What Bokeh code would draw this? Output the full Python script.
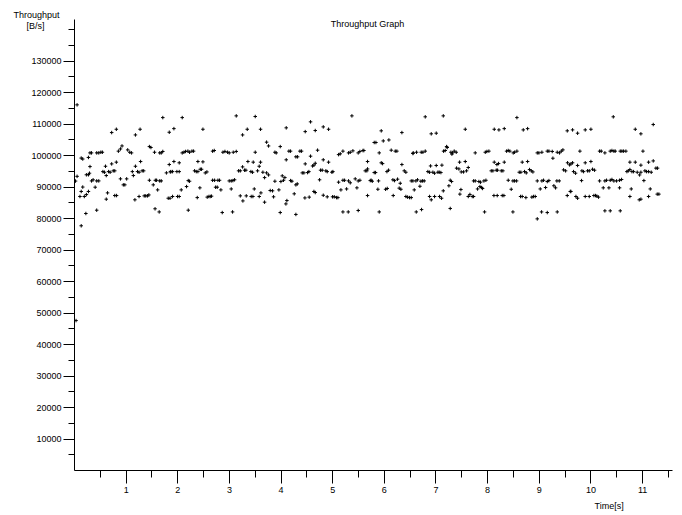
from bokeh.plotting import figure
from bokeh.models import Range1d, FixedTicker, BasicTickFormatter, Label, Title, ColumnDataSource
from bokeh.embed import file_html
from bokeh.resources import INLINE

# Throughput samples: time in seconds, throughput in bytes per second
time_s = [
    0.02, 0.03, 0.05, 0.05, 0.13, 0.16, 0.13, 0.16, 0.13, 0.105,
    0.19, 0.22, 0.23, 0.27, 0.23, 0.27, 0.29, 0.30, 0.27, 0.30,
    0.33, 0.33, 0.36, 0.40, 0.43, 0.47, 0.51, 0.54, 0.43, 0.47,
    0.43, 0.55, 0.58, 0.60, 0.615, 0.64, 0.615, 0.66, 0.69, 0.72,
    0.72, 0.75, 0.78, 0.81, 0.81, 0.78, 0.815, 0.89, 0.85, 0.89,
    0.92, 0.945, 0.975, 1.01, 1.03, 1.07, 1.105, 1.12, 1.14, 1.18,
    1.18, 1.17, 1.22, 1.25, 1.25, 1.27, 1.28, 1.31, 1.34, 1.35,
    1.38, 1.415, 1.44, 1.45, 1.48, 1.45, 1.525, 1.55, 1.565, 1.59,
    1.56, 1.61, 1.64, 1.65, 1.68, 1.65, 1.68, 1.71, 1.71, 1.78,
    1.835, 1.835, 1.815, 1.85, 1.855,
    2.086, 1.925, 2.487, 1.925, 2.028, 2.086, 2.119, 2.151, 2.196, 2.228,
    2.274, 2.306, 1.867, 1.899, 1.983, 2.028, 2.390, 2.487, 2.325, 2.358,
    2.390, 2.435, 2.461, 2.532, 2.564, 2.170, 2.203, 2.228, 2.067, 1.899,
    1.996, 2.028, 2.203, 2.377, 2.428, 2.570, 2.603, 2.629, 2.654, 2.674,
    2.706, 2.674, 2.713, 2.777, 2.809, 2.732, 2.764, 2.835, 2.861, 2.874,
    2.913, 2.964, 2.996, 2.996, 3.035, 3.074, 3.132, 3.035, 3.068, 3.100,
    3.061, 3.132, 3.177, 3.210, 3.210, 3.255, 3.261, 3.293, 3.319, 3.326,
    3.345, 3.255, 3.358, 3.416, 3.448, 3.422, 3.455, 3.481, 3.461, 3.500,
    3.500, 3.545, 3.577, 3.577, 3.603, 3.603, 3.610, 3.681, 3.648, 3.681,
    3.720, 3.720, 3.758, 3.758, 3.790,
    5.372, 4.571, 4.100, 4.468, 4.662, 4.817, 4.920, 3.984, 3.881, 3.906,
    4.152, 4.184, 4.365, 4.397, 4.707, 5.198, 5.114, 5.146, 5.307, 5.340,
    5.391, 5.494, 5.527, 5.585, 5.604, 4.100, 4.287, 4.320, 4.571, 4.817,
    4.468, 4.610, 4.636, 4.662, 4.920, 5.675, 5.675, 5.630, 5.662, 4.765,
    4.797, 4.868, 4.894, 4.984, 5.004, 4.410, 4.442, 4.513, 4.539, 4.023,
    4.074, 3.881, 3.997, 4.048, 4.184, 4.210, 4.313, 4.287, 4.746, 5.114,
    5.198, 5.230, 5.307, 5.340, 5.436, 5.494, 5.527, 3.835, 3.958, 3.855,
    4.255, 4.462, 4.545, 4.636, 4.662, 4.817, 4.894, 4.997, 5.030, 5.075,
    5.101, 5.159, 5.269, 5.469, 5.675, 4.113, 4.094, 3.984, 4.287, 5.198,
    5.301, 5.494, 5.727,
    6.792, 7.141, 5.940, 6.340, 6.908, 7.005, 7.567, 5.804, 5.837, 5.979,
    6.088, 5.901, 6.133, 6.211, 6.243, 6.553, 6.560, 6.624, 6.714, 6.747,
    6.792, 7.147, 7.179, 7.205, 7.218, 7.289, 7.321, 7.353, 7.392, 7.308,
    5.940, 5.966, 6.340, 6.895, 7.005, 7.115, 7.457, 7.567, 5.804, 5.830,
    6.050, 6.082, 6.385, 6.417, 6.843, 6.876, 6.940, 6.973, 7.037, 7.063,
    7.095, 7.399, 7.444, 7.489, 7.534, 7.592, 7.625, 5.766, 5.745, 5.888,
    6.166, 6.198, 6.308, 6.256, 6.521, 6.553, 6.611, 6.643, 6.708, 6.740,
    6.772, 7.276, 7.302, 5.875, 6.024, 6.056, 6.288, 6.321, 6.689, 6.579,
    7.250, 7.141, 7.483, 7.463, 7.657, 6.172, 6.417, 6.450, 6.488, 6.521,
    6.876, 6.908, 6.973, 7.069, 7.108, 7.625, 5.901, 6.618, 6.721, 7.276,
    8.567, 8.128, 8.219, 8.322, 8.690, 8.774, 9.542, 7.760, 7.954, 7.986,
    8.025, 8.367, 8.399, 8.431, 8.496, 8.522, 8.567, 8.961, 8.993, 9.051,
    9.155, 9.187, 9.251, 9.264, 9.348, 9.393, 9.426, 9.458, 8.128, 8.180,
    8.212, 8.322, 8.670, 8.774, 9.548, 9.587, 8.070, 8.102, 8.167, 8.193,
    8.264, 8.296, 8.612, 8.644, 8.715, 8.748, 8.812, 8.845, 8.877, 9.471,
    9.510, 7.728, 7.760, 7.831, 7.863, 7.928, 7.967, 8.399, 8.490, 8.522,
    8.561, 8.961, 9.051, 9.083, 9.155, 9.187, 9.341, 9.387, 9.283, 9.316,
    7.851, 7.883, 7.805, 7.902, 8.457, 9.019, 9.122, 9.600, 7.702, 7.728,
    8.122, 8.186, 8.283, 8.315, 8.638, 8.670, 8.741, 8.857, 8.890, 8.922,
    9.542, 7.941, 8.490, 9.045, 9.155, 9.348, 8.961,
    10.433, 11.207, 9.645, 9.742, 9.890, 10.000, 10.859, 10.968, 9.787, 10.168,
    10.200, 10.271, 10.374, 10.407, 10.445, 10.471, 10.568, 10.600, 10.633, 10.678,
    11.008, 9.613, 9.645, 9.742, 9.890, 10.000, 10.755, 10.859, 10.968, 11.117,
    11.207, 9.664, 9.703, 9.826, 9.858, 9.935, 9.968, 10.032, 10.071, 10.697,
    10.723, 10.755, 10.794, 10.826, 10.897, 10.943, 10.968, 11.046, 11.078, 11.117,
    11.168, 11.259, 11.291, 9.819, 10.168, 10.271, 10.303, 10.374, 10.407, 10.445,
    10.497, 10.555, 10.594, 11.026, 9.613, 10.239, 10.349, 10.555, 10.781, 11.149,
    9.710, 9.742, 9.890, 9.968, 10.058, 10.090, 10.116, 10.148, 10.755, 10.936,
    10.968, 11.117, 11.284, 11.317, 10.271, 10.374, 10.568,
]

throughput_bps = [
    91900, 47600, 116100, 93400, 99200, 98900, 77700, 90000, 88600, 87000,
    87000, 81600, 87600, 88600, 93900, 93900, 94400, 96500, 99400, 100850,
    100850, 91950, 92300, 89950, 100850, 100850, 101050, 101050, 91950, 91950,
    82650, 94900, 94700, 96600, 93650, 88150, 86150, 94900, 94700, 97350,
    107300, 95150, 95150, 108350, 97900, 87300, 87300, 92600, 101400, 102100,
    103050, 90700, 90700, 92600, 101800, 101050, 100850, 94900, 93650, 96600,
    106550, 85950, 94900, 94700, 87000, 108350, 98100, 95150, 95150, 87200,
    87200, 87200, 87500, 102850, 102550, 92150, 90700, 101050, 92150, 92150,
    83100, 89100, 82100, 100850, 100850, 91950, 91950, 101300, 112050, 94500,
    107400, 97150, 86450, 86450, 94800,
    112050, 108550, 108350, 98100, 97700, 100850, 101050, 101300, 101400, 101050,
    101400, 101400, 94900, 94900, 94900, 94900, 98100, 98000, 95150, 94900,
    94900, 95650, 95650, 94500, 94800, 90150, 92050, 91850, 89100, 87000,
    87000, 87000, 82650, 86650, 89750, 86800, 87000, 87000, 87100, 101400,
    101600, 92150, 92150, 92150, 92150, 89950, 89950, 89100, 81900, 101050,
    101300, 101050, 100850, 91950, 91950, 101050, 101300, 89400, 92050, 92300,
    82100, 112600, 95150, 95150, 87200, 96400, 85600, 95350, 95350, 87200,
    108350, 106550, 98100, 94900, 94700, 87000, 87000, 89400, 97900, 112400,
    101050, 95150, 96600, 87000, 108350, 97900, 88150, 85200, 94700, 93000,
    104250, 94500, 103050, 93850, 88900,
    112600, 110700, 108800, 107600, 107950, 109100, 108350, 102850, 101050, 100850,
    101400, 101400, 101400, 101400, 101700, 101400, 100300, 100550, 100850, 101050,
    101500, 100850, 101300, 101600, 101600, 98650, 99600, 99600, 99800, 98650,
    97350, 96700, 96950, 97550, 97900, 98100, 95750, 95150, 95150, 95350,
    95350, 95150, 94900, 94700, 94900, 94500, 94500, 94600, 94900, 93550,
    93000, 91850, 91750, 92150, 92050, 91850, 91000, 90700, 92300, 91550,
    92150, 92150, 91950, 91350, 92600, 91950, 92150, 88800, 89100, 86900,
    87850, 86550, 86800, 88600, 88250, 87400, 86900, 86900, 86900, 86650,
    86650, 89100, 89400, 89750, 87300, 85700, 84650, 81900, 81300, 82100,
    82100, 82550, 92050,
    112300, 112600, 107850, 107300, 106900, 107100, 108350, 104150, 104150, 104650,
    104950, 100850, 101700, 101400, 101400, 100650, 100850, 101050, 101050, 101050,
    101400, 101400, 101600, 102850, 102550, 101050, 100850, 101400, 101050, 100450,
    97700, 97450, 97150, 96700, 96850, 96950, 97900, 98100, 94600, 94600,
    94900, 95350, 95150, 94700, 94900, 94700, 94700, 94400, 94700, 94700,
    94600, 96000, 95750, 94800, 94800, 95150, 96200, 91850, 92150, 91950,
    92300, 92050, 91200, 92500, 91950, 91950, 91950, 92300, 91850, 91950,
    91950, 92150, 91750, 89300, 89300, 89550, 89650, 89300, 90250, 89100,
    90400, 88800, 89200, 87750, 87650, 87300, 87000, 86800, 86650, 86650,
    87000, 85950, 87000, 87000, 86450, 87000, 82100, 82100, 82850, 83200,
    112050, 108350, 108150, 108550, 108150, 108550, 107850, 100850, 101050, 101300,
    101400, 101400, 101600, 101400, 100850, 101050, 101400, 100850, 100850, 101050,
    101400, 101400, 101300, 99150, 101050, 100850, 101400, 101800, 97900, 97150,
    97450, 97900, 97900, 98100, 97700, 97050, 95150, 95150, 95350, 95350,
    95150, 95150, 94700, 94700, 94900, 94500, 95550, 95150, 94800, 95450,
    95150, 91950, 91950, 91750, 91550, 91950, 92150, 92150, 91950, 91950,
    91950, 91950, 91950, 92150, 91750, 92050, 91950, 91950, 90400, 89750,
    90150, 89850, 89400, 89550, 89300, 89400, 89850, 88600, 87000, 87000,
    87300, 87300, 87300, 87300, 87000, 87000, 86650, 86800, 87000, 87000,
    87300, 82100, 82100, 82100, 81900, 82100, 79900,
    112300, 109850, 108150, 107100, 108150, 108350, 108350, 106900, 101400, 101400,
    101400, 100850, 101400, 101600, 101400, 101400, 101400, 101400, 101400, 101400,
    101400, 97350, 97700, 96850, 97700, 98100, 97900, 97900, 96950, 97900,
    98300, 94900, 94400, 95150, 94900, 95150, 95150, 95650, 95350, 94900,
    95150, 95550, 94900, 94900, 94700, 93850, 94700, 95150, 94900, 94900,
    94700, 96000, 96000, 92050, 91950, 91950, 92150, 92150, 92400, 91950,
    91950, 92150, 92400, 92050, 88600, 89750, 89750, 89750, 89400, 89400,
    87000, 86450, 87000, 87000, 87300, 87300, 87100, 86800, 87000, 85950,
    86150, 87000, 87750, 87750, 82450, 82450, 82450,
]

# Axis ticks
x_major_ticks = list(range(1, 12))
x_minor_ticks = [0.5 * i for i in range(1, 24)]
y_major_ticks = list(range(10000, 140000, 10000))
y_minor_ticks = list(range(5000, 145000, 5000))

FONT = "Liberation Sans"

source = ColumnDataSource(data=dict(t=time_s, v=throughput_bps))

p = figure(width=682, height=515, output_backend="svg", toolbar_location=None,
           x_range=Range1d(0, 11.58), y_range=Range1d(0, 143200),
           min_border_left=74, min_border_right=10,
           min_border_top=19, min_border_bottom=45)
p.title.visible = False
p.outline_line_color = None
p.grid.visible = False
p.background_fill_color = "white"
p.border_fill_color = "white"

for ax in (p.xaxis[0], p.yaxis[0]):
    ax.axis_line_color = "black"
    ax.major_tick_line_color = "black"
    ax.minor_tick_line_color = "black"
    ax.major_tick_in = 0
    ax.minor_tick_in = 0
    ax.major_label_text_font = FONT
    ax.major_label_text_font_size = "9px"
    ax.major_label_text_color = "black"

p.xaxis.ticker = FixedTicker(ticks=x_major_ticks, minor_ticks=x_minor_ticks)
p.xaxis.major_tick_out = 13
p.xaxis.minor_tick_out = 7
p.xaxis.major_label_standoff = 3

p.yaxis.ticker = FixedTicker(ticks=y_major_ticks, minor_ticks=y_minor_ticks)
p.yaxis.formatter = BasicTickFormatter(use_scientific=False)
p.yaxis.major_tick_out = 11
p.yaxis.minor_tick_out = 6
p.yaxis.major_label_standoff = 2

# unit of the vertical axis, shown under the quantity name near the axis top
p.yaxis.axis_label = "\n[B/s]"
p.yaxis.axis_label_orientation = "horizontal"
p.yaxis.axis_label_align = "end"
p.yaxis.axis_label_standoff = -16
p.yaxis.axis_label_text_font = FONT
p.yaxis.axis_label_text_font_size = "9px"
p.yaxis.axis_label_text_font_style = "normal"
p.yaxis.axis_label_text_color = "black"

p.scatter(x="t", y="v", source=source, marker="cross", size=3.5,
          line_color="black", line_width=1)

p.add_layout(Title(text="Throughput", align="left", offset=-61, standoff=0,
                   text_font=FONT, text_font_size="9px", text_font_style="normal",
                   text_color="black"), "above")
p.add_layout(Title(text="Time[s]", align="left", offset=520, standoff=7,
                   text_font=FONT, text_font_size="9px", text_font_style="normal",
                   text_color="black"), "below")

p.add_layout(Label(x=293, y=447, x_units="screen", y_units="screen",
                   text="Throughput Graph", text_align="center", text_baseline="middle",
                   text_font=FONT, text_font_size="9px", text_color="black"))

open("out.html", "w").write(file_html(p, INLINE))
